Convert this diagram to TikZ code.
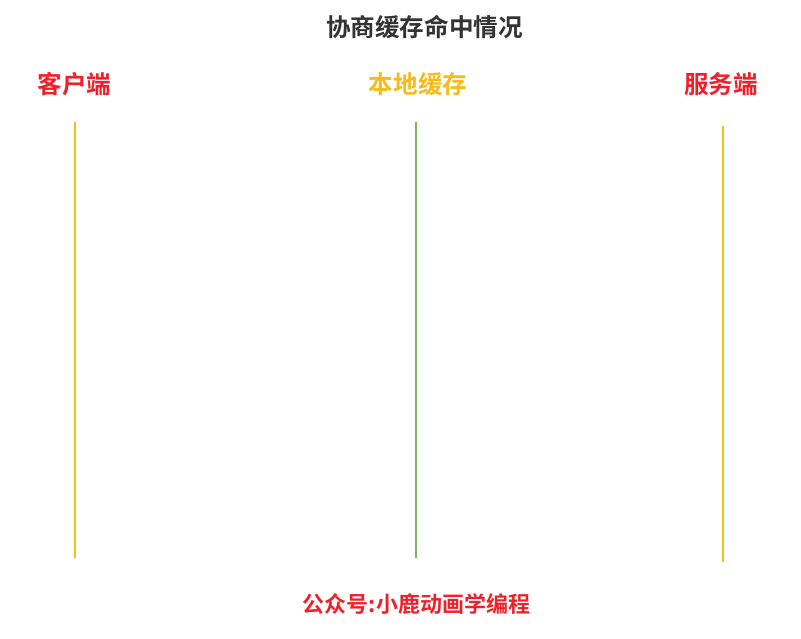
\documentclass[tikz,border=0pt]{standalone}
\usepackage{fontspec}
\newfontfamily\cjk{Noto Sans CJK SC}[BoldFont={Noto Sans CJK SC Bold}]
\definecolor{tred}{HTML}{F0202A}
\definecolor{tgold}{HTML}{F5BB1A}
\definecolor{tgreen}{HTML}{82B366}
\definecolor{tline}{HTML}{F2C218}
\definecolor{tgray}{HTML}{333333}
\begin{document}
\begin{tikzpicture}[x=1pt,y=-1pt,
  lbl/.style={font=\cjk\bfseries\fontsize{24.6}{28}\selectfont, inner sep=0pt, anchor=center},
  life/.style={line width=2pt}]
\useasboundingbox (0,0) rectangle (801,639);
\node[lbl, text=tgray] (title) at (424.5,27) {协商缓存命中情况};
\node[lbl, text=tred] (client) at (74.5,84) {客户端};
\node[lbl, text=tgold] (cache) at (418,84) {本地缓存};
\node[lbl, text=tred] (server) at (721,84) {服务端};
\coordinate (c1) at (75,122); \coordinate (c2) at (75,558);
\coordinate (m1) at (416,122); \coordinate (m2) at (416,558);
\coordinate (s1) at (723,126); \coordinate (s2) at (723,562);
\draw[life, tline] (c1) -- (c2);
\draw[life, tgreen] (m1) -- (m2);
\draw[life, tline] (s1) -- (s2);
\node[font=\cjk\bfseries\fontsize{22}{26}\selectfont, text=tred, inner sep=0pt] (footer) at (416.5,604) {公众号:小鹿动画学编程};
\end{tikzpicture}
\end{document}
